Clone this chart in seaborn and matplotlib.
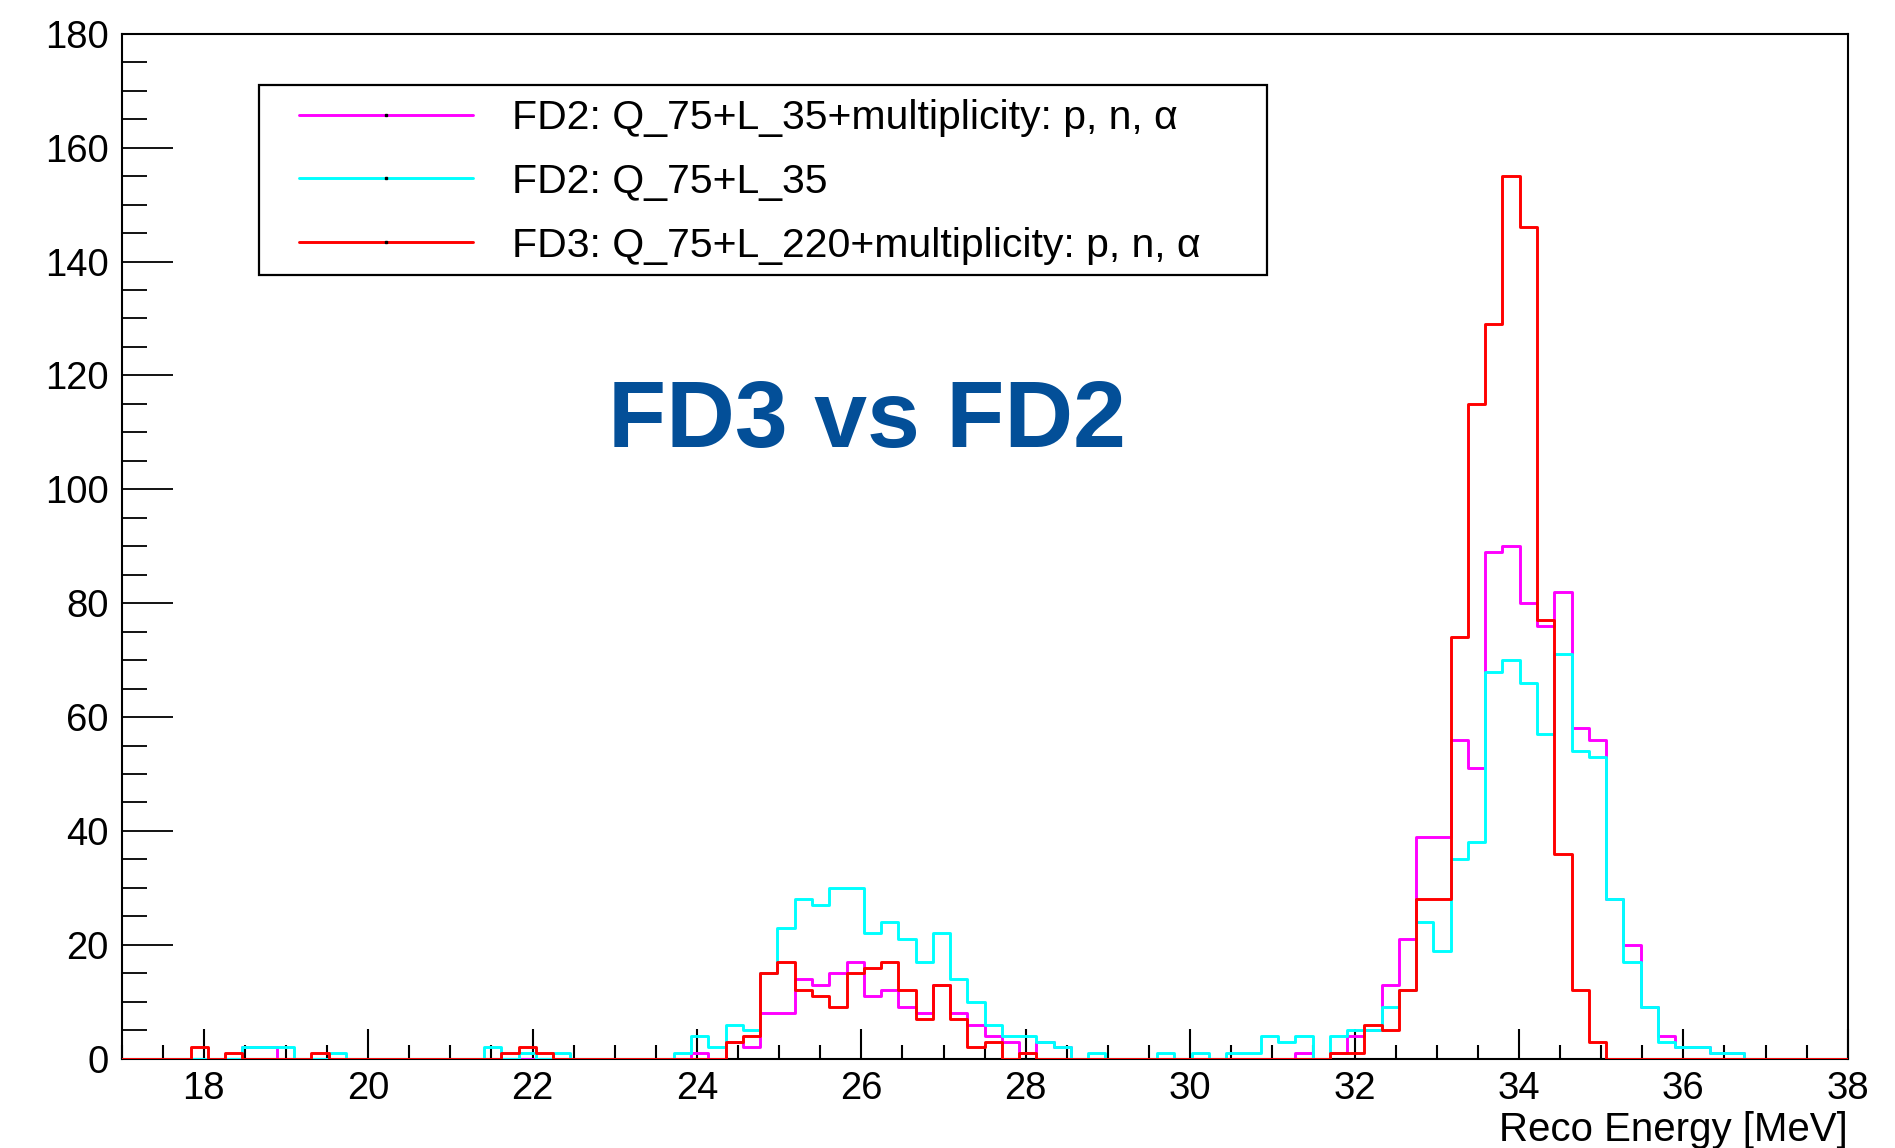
import numpy as np
import pandas as pd
import matplotlib
matplotlib.use("Agg")
import matplotlib.pyplot as plt
import matplotlib.patches as mpatches
from matplotlib.lines import Line2D
from matplotlib.ticker import MultipleLocator
import seaborn as sns

# ---------------- data (100 bins, 17 -> 38 MeV) ----------------
x_min, x_max, n_bins = 17.0, 38.0, 100

fd2_mult_counts = [
    0, 0, 0, 0, 0, 0, 0, 2, 2, 0, 0, 0, 0, 0, 0, 0, 0, 0, 0, 0,
    0, 0, 0, 0, 0, 0, 0, 0, 0, 0, 0, 0, 0, 1, 0, 3, 2, 8, 8, 14,
    13, 15, 17, 11, 12, 9, 8, 13, 8, 6, 4, 3, 1, 3, 2, 0, 0, 0, 0, 0,
    0, 0, 0, 0, 0, 0, 0, 0, 1, 0, 1, 4, 5, 13, 21, 39, 39, 56, 51, 89,
    90, 80, 76, 82, 58, 56, 28, 20, 9, 4, 2, 2, 1, 1, 0, 0, 0, 0, 0, 0,
]
fd2_counts = [
    0, 0, 0, 0, 0, 0, 0, 2, 2, 2, 0, 0, 1, 0, 0, 0, 0, 0, 0, 0,
    0, 2, 0, 1, 0, 1, 0, 0, 0, 0, 0, 0, 1, 4, 2, 6, 5, 15, 23, 28,
    27, 30, 30, 22, 24, 21, 17, 22, 14, 10, 6, 4, 4, 3, 2, 0, 1, 0, 0, 0,
    1, 0, 1, 0, 1, 1, 4, 3, 4, 0, 4, 5, 5, 9, 12, 24, 19, 35, 38, 68,
    70, 66, 57, 71, 54, 53, 28, 17, 9, 3, 2, 2, 1, 1, 0, 0, 0, 0, 0, 0,
]
fd3_mult_counts = [
    0, 0, 0, 0, 2, 0, 1, 0, 0, 0, 0, 1, 0, 0, 0, 0, 0, 0, 0, 0,
    0, 0, 1, 2, 1, 0, 0, 0, 0, 0, 0, 0, 0, 0, 0, 3, 4, 15, 17, 12,
    11, 9, 15, 16, 17, 12, 7, 13, 7, 2, 3, 0, 1, 0, 0, 0, 0, 0, 0, 0,
    0, 0, 0, 0, 0, 0, 0, 0, 0, 0, 1, 1, 6, 5, 12, 28, 28, 74, 115, 129,
    155, 146, 77, 36, 12, 3, 0, 0, 0, 0, 0, 0, 0, 0, 0, 0, 0, 0, 0, 0,
]

series_labels = [
    "FD2: Q_75+L_35+multiplicity: p, n, α",
    "FD2: Q_75+L_35",
    "FD3: Q_75+L_220+multiplicity: p, n, α",
]
series_colors = ["#ff00ff", "#00ffff", "#ff0000"]
x_label = "Reco Energy [MeV]"
title_text = "FD3 vs FD2"

# ---------------- style ----------------
sns.set_style("white")
plt.rcParams["font.family"] = ["Liberation Sans", "DejaVu Sans"]
plt.rcParams["text.color"] = "black"
plt.rcParams["axes.labelcolor"] = "black"
plt.rcParams["xtick.color"] = "black"
plt.rcParams["ytick.color"] = "black"

edges = np.linspace(x_min, x_max, n_bins + 1)
centers = 0.5 * (edges[:-1] + edges[1:])
bin_edges = [float(e) for e in edges]

W, H = 1895, 1148
fig = plt.figure(figsize=(W / 100, H / 100), dpi=100)
ax_l, ax_r, ax_t, ax_b = 121.5, 1847.7, 33.8, 1058.7
ax = fig.add_axes([ax_l / W, 1 - ax_b / H, (ax_r - ax_l) / W, (ax_b - ax_t) / H])

LW = 2.1
for counts, col in zip([fd2_mult_counts, fd2_counts, fd3_mult_counts], series_colors):
    df = pd.DataFrame({"energy": centers, "count": counts})
    sns.histplot(data=df, x="energy", weights="count", bins=bin_edges,
                 element="step", fill=False, color=col, linewidth=LW,
                 ax=ax, zorder=3)

ax.set_xlim(x_min, x_max)
ax.set_ylim(0, 180)
ax.set_ylabel("")
ax.xaxis.set_major_locator(MultipleLocator(2))
ax.xaxis.set_minor_locator(MultipleLocator(0.5))
ax.yaxis.set_major_locator(MultipleLocator(20))
ax.yaxis.set_minor_locator(MultipleLocator(5))
ax.set_xticks(np.arange(18, 39, 2))

for s in ax.spines.values():
    s.set_linewidth(1.5)
    s.set_color("black")

ax.tick_params(axis="x", which="major", direction="in", length=21.5, width=1.5,
               labelsize=27.5, pad=9, top=False, bottom=True, colors="black")
ax.tick_params(axis="x", which="minor", direction="in", length=10, width=1.5,
               top=False, bottom=True, colors="black")
ax.tick_params(axis="y", which="major", direction="in", length=36.5, width=1.3,
               labelsize=27.5, pad=9, right=False, left=True, colors="black")
ax.tick_params(axis="y", which="minor", direction="in", length=18, width=1.3,
               right=False, left=True, colors="black")

ax.set_xlabel(x_label, fontsize=29, loc="right", color="black")
ax.xaxis.set_label_coords(1.0, -0.051)

# title-like annotation
fig.text(867 / W, 1 - 446.7 / H, title_text, fontsize=68.5, fontweight="bold",
         color="#034f98", ha="center", va="baseline")

# legend
handles = [Line2D([], [], color=c, lw=LW, marker="s", markersize=1.8,
                  markerfacecolor="k", markeredgecolor="k") for c in series_colors]
leg = fig.legend(handles, series_labels, loc="upper left",
                 bbox_to_anchor=(298.5 / W, 1 - 99 / H), bbox_transform=fig.transFigure,
                 frameon=False, fontsize=29.5, handlelength=4.25, handletextpad=0.95,
                 labelspacing=0.63, borderpad=0, borderaxespad=0, numpoints=1)
for t in leg.get_texts():
    t.set_color("black")
box = mpatches.Rectangle((258.6 / W, 1 - 275.5 / H), 1007.9 / W, 190.9 / H,
                         transform=fig.transFigure, fill=False, edgecolor="black",
                         linewidth=1.6)
fig.add_artist(box)

fig.savefig("out.png", dpi=100)
